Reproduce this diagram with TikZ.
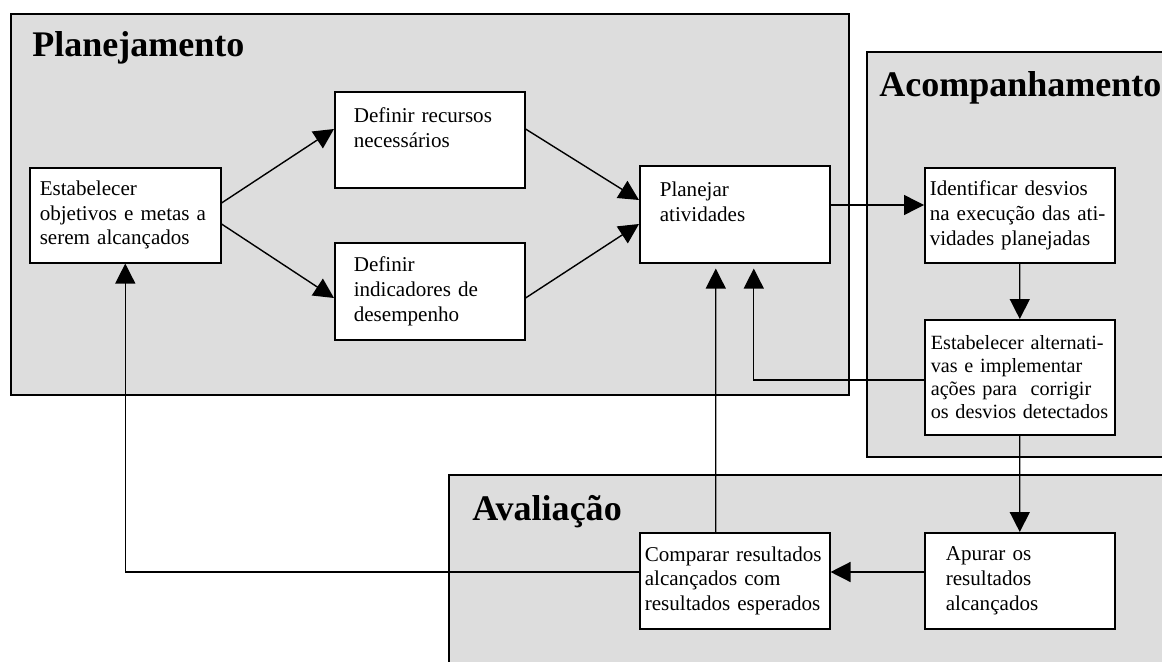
\documentclass[tikz,border=0pt]{standalone}
\usepackage{fontspec}
\setmainfont{Liberation Serif}
\usepackage{tikz}
\usetikzlibrary{arrows.meta,calc}
\definecolor{panelgray}{RGB}{221,221,221}

\begin{document}
\begin{tikzpicture}[x=0.02cm,y=-0.02cm,
	panel/.style={draw,fill=panelgray,line width=0.9pt},
	title/.style={anchor=base west,inner sep=0pt,font=\fontsize{20.5}{24}\selectfont\bfseries},
	box/.style 2 args={draw,fill=white,line width=0.9pt,anchor=north west,align=left,
		text width=#1,inner xsep=#2,inner ysep=0pt,font=\fontsize{12}{14}\selectfont},
	flow/.style={line width=0.8pt,-{Triangle[length=0.4cm,width=0.4cm]}}]
	\useasboundingbox (0,0) rectangle (1162,662);
	\clip (0,0) rectangle (1162,662);
	\draw[panel] (11,14) rectangle (849,395);
	\draw[panel] (867,52) rectangle (1200,457);
	\draw[panel] (449,475) rectangle (1200,700);
	\node[title] (tplan) at (32,57) {Planejamento};
	\node[title] (tacomp) at (879,97) {Acompanhamento};
	\node[title] (taval) at (472,520) {Avaliação};
	\node[box={3.42cm}{0.2cm},minimum height=1.9cm] (estab) at (29,167)
		{Estabelecer\\objetivos~e~metas~a\\serem alcançados};
	\node[box={3.04cm}{0.38cm},minimum height=1.92cm] (recursos) at (334,91)
		{Definir recursos\\necessários\\\mbox{}};
	\node[box={3.04cm}{0.38cm},minimum height=1.94cm] (indic) at (334,242)
		{Definir\\indicadores de\\desempenho};
	\node[box={3cm}{0.4cm},minimum height=1.94cm] (planejar) at (639,165)
		{Planejar\\atividades\\\mbox{}};
	\node[box={3.6cm}{0.1cm},minimum height=1.9cm] (ident) at (924,167)
		{Identificar desvios\\na execução das ati-\\vidades planejadas};
	\node[box={3.56cm}{0.12cm},minimum height=2.3cm,font=\fontsize{11.5}{13.2}\selectfont] (alt) at (924,319)
		{Estabelecer alternati-\\vas e implementar\\ações para\ \ corrigir\\os desvios detectados};
	\node[box={3.6cm}{0.1cm},minimum height=1.92cm] (comparar) at (639,532)
		{Comparar resultados\\alcançados com\\resultados esperados};
	\node[box={2.96cm}{0.42cm},minimum height=1.92cm] (apurar) at (924,532)
		{Apurar os\\resultados\\alcançados};
	\draw[flow] (estab.east |- 0,203) -- (recursos.west |- 0,129);
	\draw[flow] (estab.east |- 0,224) -- (indic.west |- 0,298);
	\draw[flow] (recursos.east |- 0,129) -- (planejar.west |- 0,200);
	\draw[flow] (indic.east |- 0,298) -- (planejar.west |- 0,224);
	\draw[flow] (planejar.east |- 0,205) -- (ident.west |- 0,205);
	\draw[flow] (ident.south) -- (alt.north);
	\draw[flow] (alt.west |- 0,380) -| ([xshift=0.38cm,yshift=-0.1cm]planejar.south);
	\draw[flow] (alt.south) -- (apurar.north);
	\draw[flow] (apurar.west |- 0,572) -- (comparar.east |- 0,572);
	\draw[flow] (comparar.west |- 0,572) -| (estab.south);
	\draw[flow] ([xshift=-0.38cm]comparar.north) -- ([xshift=-0.38cm,yshift=-0.1cm]planejar.south);
\end{tikzpicture}
\end{document}
